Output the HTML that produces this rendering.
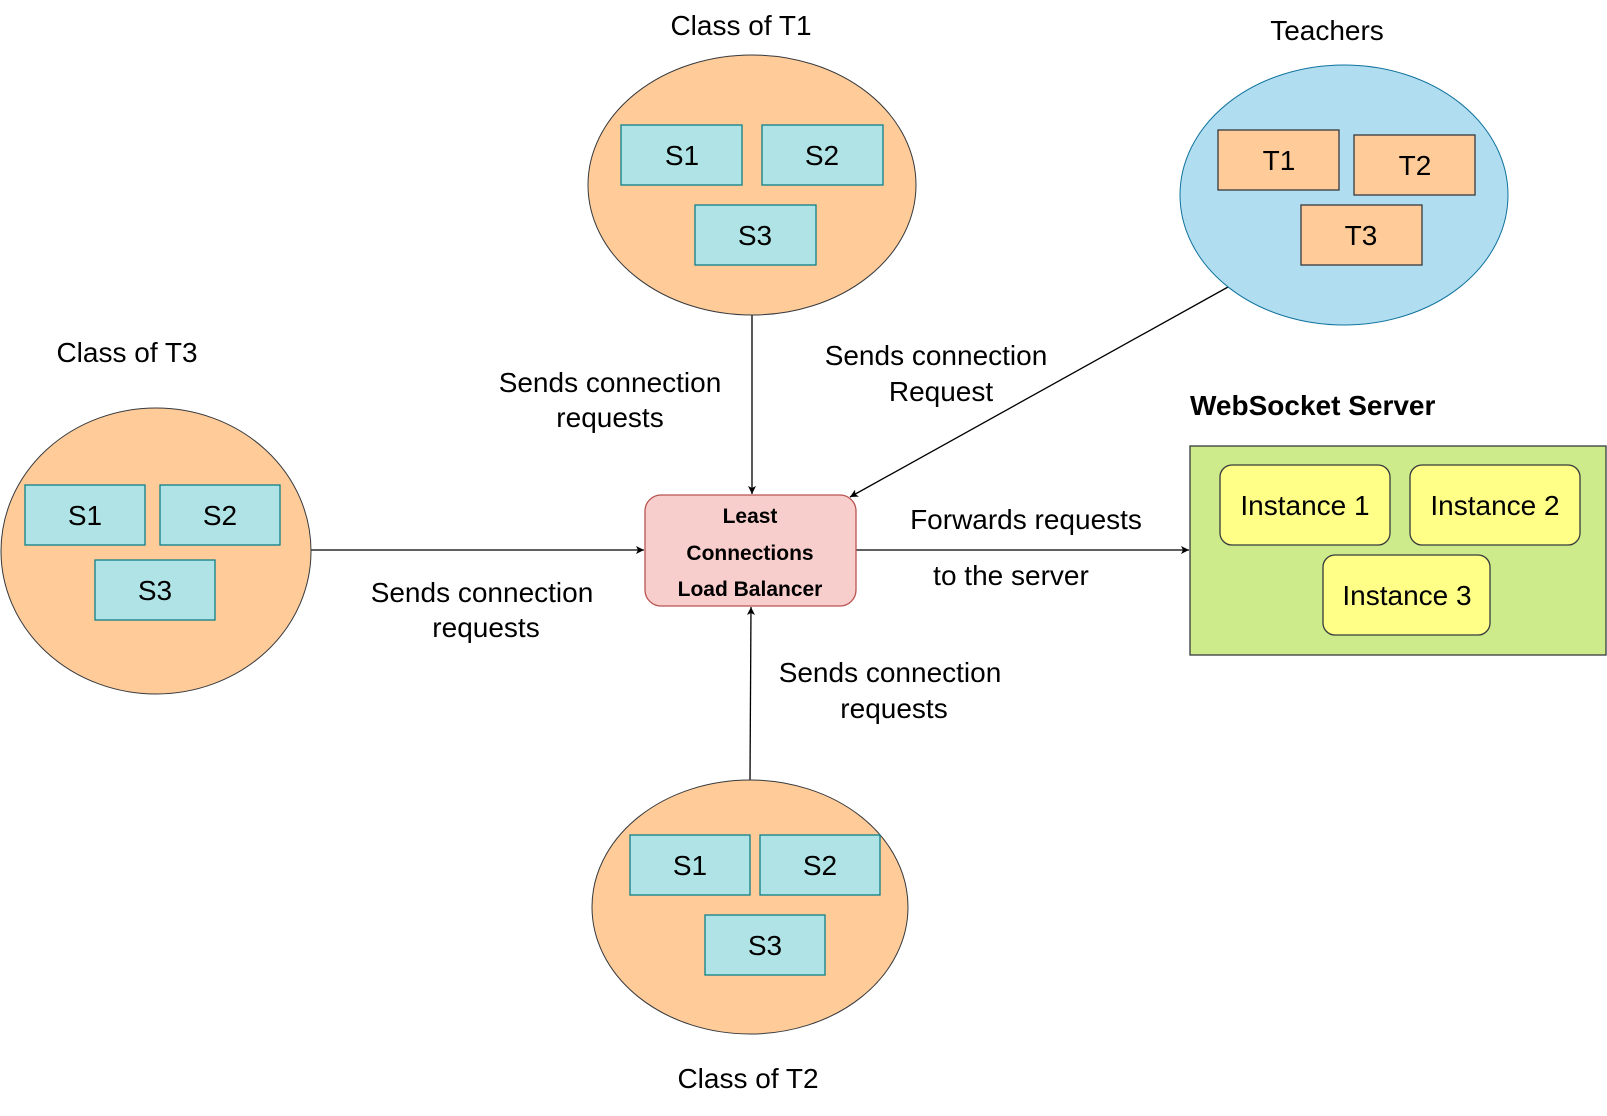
<!DOCTYPE html>
<html><head><meta charset="utf-8"><style>html,body{margin:0;padding:0;background:#fff}svg{display:block}</style></head>
<body>
<svg width="1607" height="1116" viewBox="0 0 1607 1116" xmlns="http://www.w3.org/2000/svg" font-family="'Liberation Sans', Arial, sans-serif">
<defs><marker id="a" markerWidth="10" markerHeight="10" refX="9" refY="5" orient="auto" markerUnits="userSpaceOnUse"><path d="M1,1 L9,5 L1,9 L3,5 Z" fill="#000"/></marker></defs>
<g stroke="#000" stroke-width="1.3" fill="none">
<line x1="752" y1="315" x2="752" y2="494" marker-end="url(#a)"/>
<line x1="1228" y1="287" x2="850" y2="497" marker-end="url(#a)"/>
<line x1="310" y1="550" x2="644" y2="550" marker-end="url(#a)"/>
<line x1="750" y1="780" x2="751" y2="607" marker-end="url(#a)"/>
<line x1="856" y1="550" x2="1189" y2="550" marker-end="url(#a)"/>
</g>
<g font-size="28" fill="#000" text-anchor="middle">
<text x="610" y="392">Sends connection</text><text x="610" y="427">requests</text>
<text x="936" y="365">Sends connection</text><text x="941" y="401">Request</text>
<text x="1026" y="529">Forwards requests</text><text x="1011" y="585">to the server</text>
<text x="482" y="602">Sends connection</text><text x="486" y="637">requests</text>
<text x="890" y="682">Sends connection</text><text x="894" y="718">requests</text>
<text x="741" y="35">Class of T1</text>
<text x="1327" y="40">Teachers</text>
<text x="127" y="362">Class of T3</text>
<text x="748" y="1088">Class of T2</text>
</g>
<ellipse cx="752" cy="185" rx="164" ry="130" fill="#ffcc99" stroke="#36393d" stroke-width="1"/>
<g fill="#b0e3e6" stroke="#0e8088" stroke-width="1.3">
<rect x="621" y="125" width="121" height="60"/><rect x="762" y="125" width="121" height="60"/><rect x="695" y="205" width="121" height="60"/>
</g>
<ellipse cx="1344" cy="195" rx="164" ry="130" fill="#b1ddf0" stroke="#10739e" stroke-width="1"/>
<g fill="#ffcc99" stroke="#36393d" stroke-width="1.3">
<rect x="1218" y="130" width="121" height="60"/><rect x="1354" y="135" width="121" height="60"/><rect x="1301" y="205" width="121" height="60"/>
</g>
<ellipse cx="156" cy="551" rx="155" ry="143" fill="#ffcc99" stroke="#36393d" stroke-width="1"/>
<g fill="#b0e3e6" stroke="#0e8088" stroke-width="1.3">
<rect x="25" y="485" width="120" height="60"/><rect x="160" y="485" width="120" height="60"/><rect x="95" y="560" width="120" height="60"/>
</g>
<ellipse cx="750" cy="907" rx="158" ry="127" fill="#ffcc99" stroke="#36393d" stroke-width="1"/>
<g fill="#b0e3e6" stroke="#0e8088" stroke-width="1.3">
<rect x="630" y="835" width="120" height="60"/><rect x="760" y="835" width="120" height="60"/><rect x="705" y="915" width="120" height="60"/>
</g>
<g font-size="28" fill="#000" text-anchor="middle">
<text x="682" y="165">S1</text><text x="822" y="165">S2</text><text x="755" y="245">S3</text>
<text x="1279" y="170">T1</text><text x="1415" y="175">T2</text><text x="1361" y="245">T3</text>
<text x="85" y="525">S1</text><text x="220" y="525">S2</text><text x="155" y="600">S3</text>
<text x="690" y="875">S1</text><text x="820" y="875">S2</text><text x="765" y="955">S3</text>
</g>
<rect x="645" y="495" width="211" height="111" rx="16" fill="#f8cecc" stroke="#b85450" stroke-width="1.3"/>
<g font-size="21" font-weight="bold" text-anchor="middle">
<text x="750" y="523">Least</text><text x="750" y="560">Connections</text><text x="750" y="596">Load Balancer</text>
</g>
<text x="1190" y="415" font-size="28" font-weight="bold">WebSocket Server</text>
<rect x="1190" y="446" width="416" height="209" fill="#cdeb8b" stroke="#36393d" stroke-width="1.3"/>
<g fill="#ffff88" stroke="#36393d" stroke-width="1.3">
<rect x="1220" y="465" width="170" height="80" rx="12"/><rect x="1410" y="465" width="170" height="80" rx="12"/><rect x="1323" y="555" width="167" height="80" rx="12"/>
</g>
<g font-size="28" text-anchor="middle">
<text x="1305" y="515">Instance 1</text><text x="1495" y="515">Instance 2</text><text x="1407" y="605">Instance 3</text>
</g>
</svg>
</body></html>
